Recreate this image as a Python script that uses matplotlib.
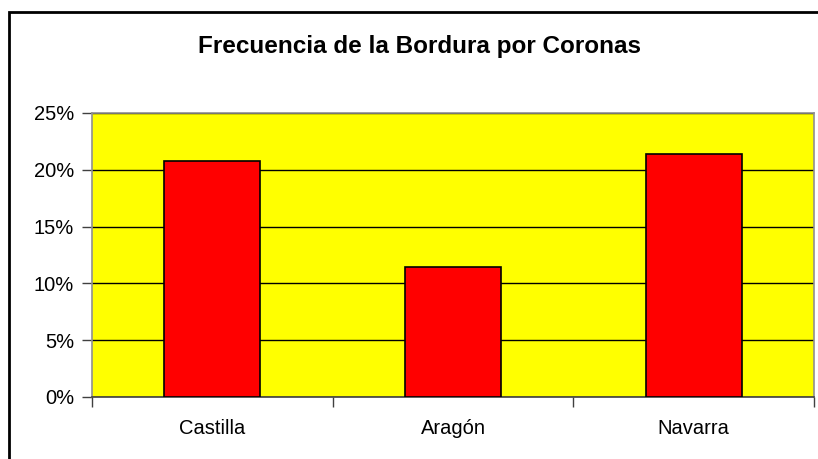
import matplotlib.pyplot as plt
import matplotlib.patches as patches
import numpy as np
from matplotlib.ticker import FuncFormatter, FixedLocator

# data
categorias = ['Castilla', 'Aragón', 'Navarra']
frecuencia = [20.8, 11.4, 21.4]
titulo = 'Frecuencia de la Bordura por Coronas'

plt.rcParams['font.family'] = ['Liberation Sans', 'DejaVu Sans']

W, H = 818, 459
fig = plt.figure(figsize=(W / 100, H / 100), dpi=100)
fig.patch.set_facecolor('white')

# plot area in pixels: left 92, right 814, top 113, bottom 397
ax = fig.add_axes([92 / W, 1 - 397 / H, (814 - 92) / W, (397 - 113) / H])
ax.set_facecolor('#FFFF00')

x = np.arange(len(categorias))
ax.bar(x, frecuencia, width=0.4, color='#FF0000', edgecolor='black',
       linewidth=1.2, zorder=3)

ax.set_xlim(-0.5, len(categorias) - 0.5)
ax.set_ylim(0, 25)
ax.set_yticks(np.arange(0, 26, 5))
ax.yaxis.set_major_formatter(FuncFormatter(lambda v, p: '%d%%' % v))
ax.yaxis.grid(True, color='black', linewidth=1, zorder=1)

ax.set_xticks(x)
ax.set_xticklabels(categorias)
ax.xaxis.set_minor_locator(FixedLocator(np.arange(-0.5, len(categorias), 1)))
ax.tick_params(axis='x', which='major', length=0, pad=16, labelsize=14.5)
ax.tick_params(axis='x', which='minor', length=7, width=1, color='#404040')
ax.tick_params(axis='y', length=7, width=1, color='#404040', pad=6, labelsize=14.5)

for side in ['top', 'right', 'left']:
    ax.spines[side].set_color('#909090')
    ax.spines[side].set_linewidth(1.2)
ax.spines['bottom'].set_color('#404040')
ax.spines['bottom'].set_linewidth(1.2)

fig.text(419.5 / W, 1 - 47 / H, titulo, ha='center', va='center',
         fontsize=17.5, fontweight='bold')

# outer chart frame (extends past the right and bottom edges)
frame = patches.Rectangle((9 / W, -0.05), 1.2, 1 - 12 / H + 0.05,
                          transform=fig.transFigure, fill=False,
                          edgecolor='black', linewidth=2, zorder=0)
fig.patches.append(frame)

fig.savefig('out.png', dpi=100)
